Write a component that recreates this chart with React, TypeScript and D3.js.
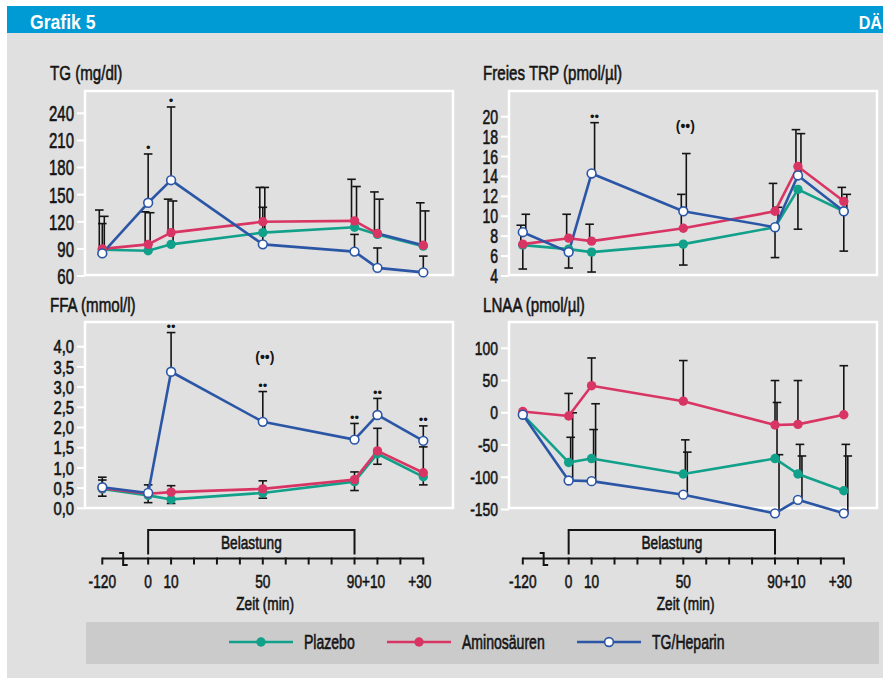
import React from "react";
import * as d3 from "d3";

// ---------- data ----------
const timeMinutes = [-120, 0, 10, 50, 90, 100, 120];
const seriesNames = ["Plazebo", "Aminosäuren", "TG/Heparin"];

const tgTicks = [60, 90, 120, 150, 180, 210, 240];
const tgPlazebo = [89, 88, 95, 108, 114, 106, 93];
const tgAmino = [90, 95, 108, 120, 121, 107, 94];
const tgHeparin = [85, 141, 166, 95, 87, 69, 64];
const tgPlazeboErr = [126, 130, 143, 158, 159, 145, 132];
const tgAminoErr = [133, 131, 145, 158, 167, 153, 141];
const tgHeparinErr = [118, 195, 247, 136, 106, 91, 82];
const tgSig = ["", "•", "•", "", "", "", ""];

const trpTicks = [4, 6, 8, 10, 12, 14, 16, 18, 20];
const trpPlazebo = [7.1, 6.7, 6.4, 7.2, 8.9, 12.7, 10.5];
const trpAmino = [7.2, 7.8, 7.5, 8.8, 10.5, 15.0, 11.5];
const trpHeparin = [8.4, 6.4, 14.3, 10.5, 8.9, 14.1, 10.5];
const trpPlazeboErr = [4.7, 4.8, 4.4, 5.1, 5.85, 8.7, 6.5];
const trpAminoErr = [9.1, 10.2, 9.2, 12.2, 13.3, 18.7, 12.9];
const trpHeparinErr = [10.2, null, 19.4, 16.3, 10.9, 18.3, 12.2];
const trpSig = ["", "", "••", "", "", "", ""];
const trpNote = { label: "(••)", minute: 50, value: 18.6 };

const ffaTicks = [0, 0.5, 1, 1.5, 2, 2.5, 3, 3.5, 4];
const ffaPlazebo = [0.48, 0.32, 0.22, 0.38, 0.66, 1.35, 0.78];
const ffaAmino = [0.5, 0.36, 0.4, 0.48, 0.71, 1.42, 0.88];
const ffaHeparin = [0.52, 0.38, 3.38, 2.14, 1.7, 2.31, 1.67];
const ffaPlazeboErr = [0.3, 0.14, 0.12, 0.25, 0.44, 1.09, 0.58];
const ffaAminoErr = [0.7, 0.58, 0.56, 0.68, 0.9, 1.98, 1.52];
const ffaHeparinErr = [0.77, null, 4.35, 2.89, 2.1, 2.72, 2.04];
const ffaSig = ["", "", "••", "••", "••", "••", "••"];
const ffaNote = { label: "(••)", minute: 50, value: 3.62 };

const lnaaTicks = [-150, -100, -50, 0, 50, 100];
const lnaaPlazebo = [-3, -77, -71, -95, -71, -95, -121];
const lnaaAmino = [2, -5, 42, 18, -19, -18, -3];
const lnaaHeparin = [-3, -105, -106, -127, -156, -135, -156];
const lnaaPlazeboErr = [null, -38, -26, -42, 16, -49, -49];
const lnaaAminoErr = [null, 30, 85, 81, 50, 50, 73];
const lnaaHeparinErr = [null, 0, 14, -61, -65, -67, -67];
const lnaaSig = ["", "", "", "", "", "", ""];

const axisTickMinutes = [-120, 0, 10, 20, 30, 40, 50, 60, 70, 80, 90, 100, 110, 120];
const xTickLabels = ["-120", "0", "10", "50", "90+10", "+30"];
const xTickLabelMinutes = [-120, 0, 10, 50, 95, 118.5];

// ---------- style / layout ----------
const GREEN = "#11a08a";
const RED = "#d93564";
const BLUE = "#2b56a6";
const COLORS = [GREEN, RED, BLUE];
const INK = "#141414";
const FONT = "'Liberation Sans', Arial, sans-serif";
const SX = 0.72;

const toAxis = (m: number) => (m === -120 ? -20 : m);
const xScales = [
  d3.scaleLinear().domain([-20, 120]).range([102.3, 423.3]),
  d3.scaleLinear().domain([-20, 120]).range([522.8, 843.8]),
];

const fmtInt = (v: number) => String(v);
const fmtComma = (v: number) => d3.format(".1f")(v).replace(".", ",");

const panels = [
  {
    title: "TG (mg/dl)", col: 0, frame: { x: 85, y: 91, w: 368, h: 184 }, yRange: [276, 113.3], titlePos: [50, 80],
    ticks: tgTicks, fmt: fmtInt, tickFont: [22, 0.68],
    data: [tgPlazebo, tgAmino, tgHeparin], err: [tgPlazeboErr, tgAminoErr, tgHeparinErr],
    sig: tgSig, note: null, offsets: [2, -3, 0], overrides: [{ series: 1, seg: 5, color: BLUE }],
  },
  {
    title: "Freies TRP (pmol/µl)", col: 1, frame: { x: 509, y: 91, w: 368, h: 184 }, yRange: [276, 116.7], titlePos: [483, 80],
    ticks: trpTicks, fmt: fmtInt, tickFont: [19.5, 0.72],
    data: [trpPlazebo, trpAmino, trpHeparin], err: [trpPlazeboErr, trpAminoErr, trpHeparinErr],
    sig: trpSig, note: trpNote, offsets: [0, -2, 3], overrides: [],
  },
  {
    title: "FFA (mmol/l)", col: 0, frame: { x: 85, y: 322, w: 368, h: 186 }, yRange: [508.3, 346.7], titlePos: [50, 312],
    ticks: ffaTicks, fmt: fmtComma, tickFont: [18.5, 0.8],
    data: [ffaPlazebo, ffaAmino, ffaHeparin], err: [ffaPlazeboErr, ffaAminoErr, ffaHeparinErr],
    sig: ffaSig, note: ffaNote, offsets: [0, 0, 0], overrides: [],
  },
  {
    title: "LNAA (pmol/µl)", col: 1, frame: { x: 509, y: 322, w: 368, h: 186 }, yRange: [509.5, 348.3], titlePos: [483, 312],
    ticks: lnaaTicks, fmt: fmtInt, tickFont: [18.5, 0.75],
    data: [lnaaPlazebo, lnaaAmino, lnaaHeparin], err: [lnaaPlazeboErr, lnaaAminoErr, lnaaHeparinErr],
    sig: lnaaSig, note: null, offsets: [2, 0, 4], overrides: [],
  },
];

function SText(props: any) {
  const { x, y, size, anchor = "start", sx = SX, fill = INK, weight = 400, stroke, children } = props;
  return (
    <text
      transform={`translate(${x},${y}) scale(${sx},1)`}
      fontSize={size}
      textAnchor={anchor}
      fill={fill}
      fontWeight={weight}
      fontFamily={FONT}
      stroke={stroke || "none"}
      strokeWidth={stroke ? 0.6 : 0}
    >
      {children}
    </text>
  );
}

function Marker({ x, y, s }: { x: number; y: number; s: number }) {
  if (s === 2) return <circle cx={x} cy={y} r={4.4} fill="#fff" stroke={BLUE} strokeWidth={1.6} />;
  return <circle cx={x} cy={y} r={4.7} fill={COLORS[s]} />;
}

function Panel({ p }: { p: any }) {
  const xs = xScales[p.col];
  const ys = d3.scaleLinear().domain([p.ticks[0], p.ticks[p.ticks.length - 1]]).range(p.yRange);
  const X = (j: number) => xs(toAxis(timeMinutes[j]));
  const f = p.frame;
  const [tfs, tsx] = p.tickFont;
  return (
    <g>
      <SText x={p.titlePos[0]} y={p.titlePos[1]} size={21} stroke={INK}>{p.title}</SText>
      <rect x={f.x} y={f.y} width={f.w} height={f.h} fill="none" stroke="#fff" strokeWidth={2.5} />
      {p.ticks.map((t: number) => (
        <g key={t}>
          <line x1={f.x - 8} x2={f.x} y1={ys(t)} y2={ys(t)} stroke="#fff" strokeWidth={2} />
          <SText x={f.x - 11} y={ys(t) + tfs * 0.36} size={tfs} sx={tsx} anchor="end" stroke={INK}>{p.fmt(t)}</SText>
        </g>
      ))}
      {/* error bars */}
      {p.err.map((arr: (number | null)[], s: number) =>
        arr.map((e, j) => {
          if (e == null) return null;
          const x = X(j) + p.offsets[s];
          return (
            <g key={`e${s}-${j}`} stroke={INK} strokeWidth={1.6}>
              <line x1={x} x2={x} y1={ys(p.data[s][j])} y2={ys(e)} />
              <line x1={x - 4.3} x2={x + 4.3} y1={ys(e)} y2={ys(e)} />
            </g>
          );
        })
      )}
      {/* lines */}
      {p.data.map((arr: number[], s: number) =>
        arr.slice(1).map((v, k) => {
          const ov = p.overrides.find((o: any) => o.series === s && o.seg === k);
          const path = d3.line<number>().x((_, i) => X(k + i)).y((d) => ys(d))([arr[k], v]);
          return <path key={`l${s}-${k}`} d={path || ""} fill="none" stroke={ov ? ov.color : COLORS[s]} strokeWidth={2.6} strokeLinejoin="round" />;
        })
      )}
      {/* markers */}
      {p.data.map((arr: number[], s: number) =>
        arr.map((v, j) => <Marker key={`m${s}-${j}`} x={X(j)} y={ys(v)} s={s} />)
      )}
      {/* significance */}
      {p.sig.map((lab: string, j: number) => {
        if (!lab) return null;
        const e = p.err[2][j];
        return (
          <text key={`s${j}`} x={X(j) + p.offsets[2]} y={ys(e) - 1.5} fontSize={13} textAnchor="middle" fontFamily={FONT} fill={INK}>{lab}</text>
        );
      })}
      {p.note && (
        <text x={xs(toAxis(p.note.minute)) + 2} y={ys(p.note.value)} fontSize={14} textAnchor="middle" fontFamily={FONT} fontWeight={700} fill={INK}>{p.note.label}</text>
      )}
    </g>
  );
}

function TimeAxis({ col }: { col: number }) {
  const xs = xScales[col];
  const yA = 558.5;
  const bx = xs(-10.9);
  return (
    <g>
      <line x1={xs(-20)} x2={xs(120)} y1={yA} y2={yA} stroke={INK} strokeWidth={2} />
      {axisTickMinutes.map((m) => (
        <line key={m} x1={xs(toAxis(m))} x2={xs(toAxis(m))} y1={yA - 1} y2={yA + 6} stroke={INK} strokeWidth={2} />
      ))}
      <path d={`M${bx - 4},${yA - 5.5} H${bx} V${yA + 6.5} H${bx + 4.5}`} fill="none" stroke={INK} strokeWidth={2} />
      <path d={`M${xs(0)},${yA - 4} V530 H${xs(90)} V${yA - 4}`} fill="none" stroke={INK} strokeWidth={2} />
      <SText x={xs(45)} y={549} size={19} anchor="middle" stroke={INK}>Belastung</SText>
      {xTickLabels.map((l, i) => (
        <SText key={l} x={xs(toAxis(xTickLabelMinutes[i]))} y={588} size={19} anchor="middle" stroke={INK}>{l}</SText>
      ))}
      <SText x={xs(51)} y={610} size={19} anchor="middle" stroke={INK}>Zeit (min)</SText>
    </g>
  );
}

const legendX = [229, 387, 577];

export default function App() {
  return (
    <svg width={888} height={684} style={{ position: "absolute", left: 0, top: 0, background: "#fff" }}>
      <rect x={7} y={6} width={876} height={672} fill="#e0e0e0" />
      <rect x={7} y={6} width={876} height={27} fill="#009bd5" />
      <SText x={30} y={29} size={20} sx={0.88} fill="#fff" weight={700}>Grafik 5</SText>
      <SText x={882} y={29} size={19} sx={0.85} fill="#fff" weight={700} anchor="end">DÄ</SText>
      {panels.map((p, i) => (
        <Panel key={i} p={p} />
      ))}
      <TimeAxis col={0} />
      <TimeAxis col={1} />
      <rect x={86} y={622} width={793} height={42} fill="#cbcbcb" />
      {seriesNames.map((n, s) => (
        <g key={n}>
          <line x1={legendX[s]} x2={legendX[s] + 64} y1={642} y2={642} stroke={COLORS[s]} strokeWidth={2.6} />
          <Marker x={legendX[s] + 32} y={642} s={s} />
          <SText x={legendX[s] + 75} y={649} size={19.5} stroke={INK}>{n}</SText>
        </g>
      ))}
    </svg>
  );
}
